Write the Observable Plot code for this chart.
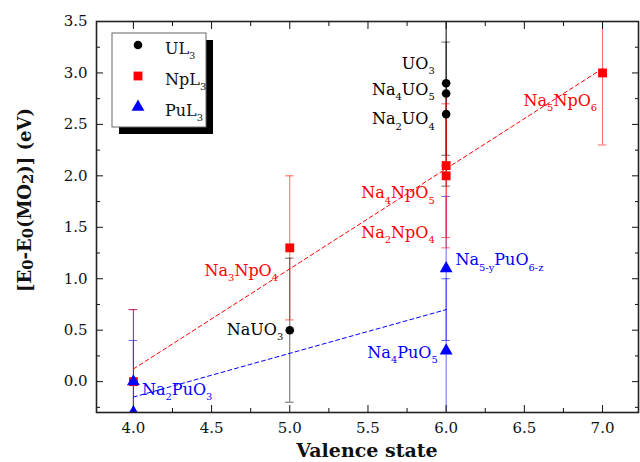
<!DOCTYPE html>
<html><head><meta charset="utf-8">
<script src="https://cdn.jsdelivr.net/npm/d3@7"></script>
<script src="https://cdn.jsdelivr.net/npm/@observablehq/plot@0.6"></script>
<style>body{margin:0;background:#fff;} #chart svg{display:block;}</style>
</head><body><div id="chart"></div>
<script>
// ---- data ----
const seriesNames = ["UL{3}", "NpL{3}", "PuL{3}"];
const seriesColors = ["#000000", "#ff0000", "#0000ff"];

const ulValence = [5, 6, 6, 6];
const ulValue   = [0.5, 2.9, 2.8, 2.6];
const ulError   = [0.7, 0.7, 0.7, 0.7];

const npValence = [4, 5, 6, 6, 7];
const npValue   = [0.0, 1.3, 2.1, 2.0, 3.0];
const npError   = [0.7, 0.7, 0.7, 0.7, 0.7];

const puValence = [4, 4, 6, 6];
const puValue   = [0.0, -0.3, 1.1, 0.3];
const puError   = [0.7, 0.7, 0.7, 0.7];

const labelText   = ["UO{3}", "Na{4}UO{5}", "Na{2}UO{4}", "NaUO{3}", "Na{3}NpO{4}", "Na{4}NpO{5}", "Na{2}NpO{4}", "Na{5}NpO{6}", "Na{2}PuO{3}", "Na{5-y}PuO{6-z}", "Na{4}PuO{5}"];
const labelX      = [5.927, 5.927, 5.927, 4.958, 4.925, 5.927, 5.927, 6.495, 4.055, 6.06, 5.946];
const labelY      = [3.09, 2.84, 2.55, 0.505, 1.08, 1.83, 1.45, 2.73, -0.08, 1.18, 0.28];
const labelSeries = [0, 0, 0, 0, 1, 1, 1, 1, 2, 2, 2];
const labelAnchor = ["end", "end", "end", "end", "end", "end", "end", "start", "start", "start", "end"];

const xTicks = [4.0, 4.5, 5.0, 5.5, 6.0, 6.5, 7.0];
const xMinorTicks = [4.25, 4.75, 5.25, 5.75, 6.25, 6.75];
const yTicks = [0.0, 0.5, 1.0, 1.5, 2.0, 2.5, 3.0, 3.5];
const yMinorTicks = [-0.25, 0.25, 0.75, 1.25, 1.75, 2.25, 2.75, 3.25];

const xTitle = "Valence state";
const yTitle = "[E{0}-E{0}(MO{2})] (eV)";

// ---- tables ----
const mk = (xs, vs, es, s) => xs.map((x, i) => ({x, v: vs[i], e: es[i], s}));
const ul = mk(ulValence, ulValue, ulError, 0);
const np = mk(npValence, npValue, npError, 1);
const pu = mk(puValence, puValue, puError, 2);
const labels = labelText.map((t, i) => ({t, x: labelX[i], y: labelY[i], s: labelSeries[i], a: labelAnchor[i]}));

const cap = 0.027;
function errorMarks(data, color) {
  const o = {stroke: color, strokeOpacity: 0.6, strokeWidth: 1, clip: "frame"};
  return [
    Plot.ruleX(data, {x: "x", y1: d => d.v - d.e, y2: d => d.v + d.e, ...o}),
    Plot.ruleY(data, {y: d => d.v + d.e, x1: d => d.x - cap, x2: d => d.x + cap, ...o}),
    Plot.ruleY(data, {y: d => d.v - d.e, x1: d => d.x - cap, x2: d => d.x + cap, ...o})
  ];
}
function labelMark(anchor) {
  return Plot.text(labels.filter(d => d.a === anchor), {x: "x", y: "y", text: "t", textAnchor: anchor, fill: d => seriesColors[d.s], fontSize: 16, lineAnchor: "middle"});
}

const fontFamily = "DejaVu Serif";
const plot = Plot.plot({
  width: 640, height: 462,
  marginLeft: 96, marginRight: 2, marginTop: 21, marginBottom: 50,
  style: {fontFamily, fontSize: "15px", background: "#fff", color: "#111"},
  x: {domain: [3.764, 7.23]},
  y: {domain: [-0.3, 3.5]},
  marks: [
    ...errorMarks(ul, seriesColors[0]),
    ...errorMarks(pu, seriesColors[2]),
    ...errorMarks(np, seriesColors[1]),
    Plot.linearRegressionY(np, {x: "x", y: "v", ci: 0, stroke: seriesColors[1], strokeWidth: 1, strokeDasharray: "4,3"}),
    Plot.linearRegressionY(pu, {x: "x", y: "v", ci: 0, stroke: seriesColors[2], strokeWidth: 1, strokeDasharray: "4,3"}),
    Plot.dot(ul, {x: "x", y: "v", symbol: "circle", r: 4.3, fill: seriesColors[0], clip: "frame"}),
    Plot.dot(np, {x: "x", y: "v", symbol: "square", r: 5, fill: seriesColors[1], clip: "frame"}),
    Plot.dot(pu, {x: "x", y: "v", symbol: "triangle", r: 4.8, fill: seriesColors[2], clip: "frame"}),
    labelMark("end"),
    labelMark("start"),
    // tick labels
    Plot.axisX(xTicks, {anchor: "bottom", tickSize: 0, tickPadding: 10, tickFormat: d => d.toFixed(1), fontSize: 15, label: null}),
    Plot.axisY(yTicks, {anchor: "left", tickSize: 0, tickPadding: 9, tickFormat: d => d.toFixed(1), fontSize: 15, label: null}),
    // inward ticks on all four sides
    Plot.axisX(xTicks, {anchor: "bottom", tickSize: -7, tickFormat: () => "", label: null}),
    Plot.axisX(xMinorTicks, {anchor: "bottom", tickSize: -4, tickFormat: () => "", label: null}),
    Plot.axisX(xTicks, {anchor: "top", tickSize: -7, tickFormat: () => "", label: null}),
    Plot.axisX(xMinorTicks, {anchor: "top", tickSize: -4, tickFormat: () => "", label: null}),
    Plot.axisY(yTicks, {anchor: "left", tickSize: -7, tickFormat: () => "", label: null}),
    Plot.axisY(yMinorTicks, {anchor: "left", tickSize: -4, tickFormat: () => "", label: null}),
    Plot.axisY(yTicks, {anchor: "right", tickSize: -7, tickFormat: () => "", label: null}),
    Plot.axisY(yMinorTicks, {anchor: "right", tickSize: -4, tickFormat: () => "", label: null}),
    Plot.frame({stroke: "#222", strokeWidth: 1.6})
  ]
});
document.getElementById("chart").appendChild(plot);

// ---- rich text (subscripts) ----
function richText(sel, str, fs, scale = 0.62, shift = 0.33) {
  sel.text(null);
  const parts = str.split(/(\{[^}]*\})/).filter(p => p);
  let shifted = false;
  for (const p of parts) {
    if (p.startsWith("{")) {
      sel.append("tspan").attr("font-size", fs * scale).attr("dy", fs * shift).text(p.slice(1, -1));
      shifted = true;
    } else {
      const t = sel.append("tspan").text(p);
      if (shifted) t.attr("dy", -fs * shift);
      shifted = false;
    }
  }
}
const svg = d3.select(plot);
svg.selectAll("text").each(function() {
  const s = this.textContent;
  if (s.includes("{")) richText(d3.select(this), s, 16);
});

// ---- axis titles ----
const xs = plot.scale("x"), ys = plot.scale("y");
const cx = (xs.range[0] + xs.range[1]) / 2;
svg.append("text").attr("x", cx).attr("y", 457).attr("text-anchor", "middle")
  .attr("font-family", fontFamily).attr("font-weight", "bold").attr("font-size", 19).attr("fill", "#111").text(xTitle);
const yt = svg.append("text").attr("transform", "translate(31,200) rotate(-90)").attr("text-anchor", "middle")
  .attr("font-family", fontFamily).attr("font-weight", "bold").attr("font-size", 18).attr("fill", "#111");
richText(yt, yTitle, 18, 0.82, 0.12);

// ---- legend ----
const lg = svg.append("g").attr("font-family", fontFamily);
const bx = xs.range[0] + 16, by = ys.range[1] + 12, bw = 94, bh = 94;
lg.append("rect").attr("x", bx + 7).attr("y", by + 7).attr("width", bw).attr("height", bh).attr("fill", "#000");
lg.append("rect").attr("x", bx).attr("y", by).attr("width", bw).attr("height", bh).attr("fill", "#fff").attr("stroke", "#666").attr("stroke-width", 1);
const symTypes = [d3.symbolCircle, d3.symbolSquare, d3.symbolTriangle];
const symSizes = [58, 78, 72];
seriesNames.forEach((name, i) => {
  const yy = by + 12 + i * 31;
  lg.append("path").attr("d", d3.symbol(symTypes[i], symSizes[i])()).attr("transform", `translate(${bx + 26},${yy})`).attr("fill", seriesColors[i]);
  const t = lg.append("text").attr("x", bx + 53).attr("y", yy + 9).attr("text-anchor", "start").attr("font-size", 16).attr("fill", "#111");
  richText(t, name, 16);
});
</script>
</body></html>
